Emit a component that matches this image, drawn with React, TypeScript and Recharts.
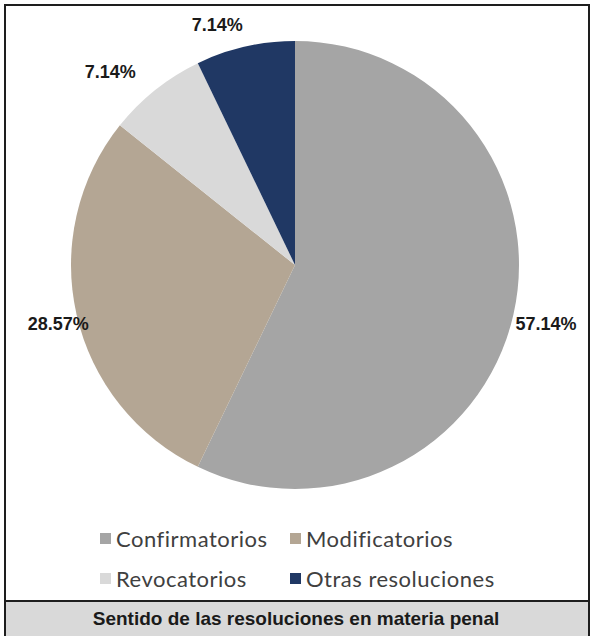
import { PieChart, Pie, Cell } from "recharts";

const CATEGORIES = ["Confirmatorios", "Modificatorios", "Revocatorios", "Otras resoluciones"];
const COUNTS = [8, 4, 1, 1];
const COLORS = ["#a5a5a5", "#b4a694", "#d9d9d9", "#203864"];
const TITLE = "Sentido de las resoluciones en materia penal";

// label tweaks, roughly where Excel put them
const LABEL_R = [258, 244, 267, 252];
const LABEL_SHIFT = [-0.4, 1.1, 5.2, 5.1];

const RADIAN = Math.PI / 180;

const data = CATEGORIES.map((name, i) => ({ name, value: COUNTS[i] }));

const renderLabel = (props: any) => {
	const { cx, cy, midAngle, percent, index } = props;
	const a = (midAngle + LABEL_SHIFT[index]) * RADIAN;
	const x = cx + LABEL_R[index] * Math.cos(a);
	const y = cy - LABEL_R[index] * Math.sin(a);
	return (
		<text
			x={x}
			y={y}
			textAnchor="middle"
			dominantBaseline="central"
			fill="#1a1a1a"
			style={{ fontFamily: "'Liberation Sans', Arial, sans-serif", fontWeight: 700, fontSize: 18 }}
		>
			{(percent * 100).toFixed(2) + "%"}
		</text>
	);
};

export default function App() {
	const legendCols = [0, 1];
	return (
		<div style={{ position: "absolute", left: 0, top: 0, width: 592, height: 636, overflow: "hidden", background: "#fff" }}>
			<div
				style={{
					position: "absolute",
					left: 4,
					top: 4,
					width: 582,
					height: 640,
					border: "2px solid #1e1e1e",
				}}
			/>
			<div style={{ position: "absolute", left: 0, top: 0 }}>
				<PieChart width={592} height={520}>
					<Pie
						data={data}
						dataKey="value"
						nameKey="name"
						cx={290}
						cy={260}
						outerRadius={224}
						startAngle={90}
						endAngle={-270}
						stroke="none"
						label={renderLabel}
						labelLine={false}
						isAnimationActive={false}
					>
						{data.map((_, i) => (
							<Cell key={`cell-${i}`} fill={COLORS[i]} />
						))}
					</Pie>
				</PieChart>
			</div>
			{[0, 1].map((row) =>
				legendCols.map((col) => {
					const i = row * 2 + col;
					return (
						<div
							key={i}
							style={{
								position: "absolute",
								left: col === 0 ? 100 : 290,
								top: row === 0 ? 525 : 565,
								height: 26,
								display: "flex",
								alignItems: "center",
								fontFamily: "Lato, 'Open Sans', sans-serif",
								fontSize: 22,
								letterSpacing: 0.5,
								color: "#404040",
								whiteSpace: "nowrap",
							}}
						>
							<span style={{ display: "inline-block", width: 11, height: 11, background: COLORS[i], marginRight: 5 }} />
							{CATEGORIES[i]}
						</div>
					);
				})
			)}
			<div
				style={{
					position: "absolute",
					left: 6,
					top: 600,
					width: 582,
					height: 40,
					borderTop: "2px solid #1e1e1e",
					background: "#d9d9d9",
				}}
			/>
			<div
				style={{
					position: "absolute",
					left: 0,
					top: 608,
					width: 592,
					textAlign: "center",
					fontFamily: "'Liberation Sans', Arial, sans-serif",
					fontWeight: 700,
					fontSize: 19,
					color: "#1a1a1a",
				}}
			>
				{TITLE}
			</div>
		</div>
	);
}
